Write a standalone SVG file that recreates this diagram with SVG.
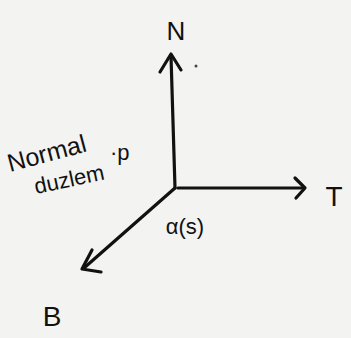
<svg xmlns="http://www.w3.org/2000/svg" width="351" height="338" viewBox="0 0 351 338">
<style>
.ax{stroke:#111;stroke-width:3.2;fill:none;stroke-linecap:round;stroke-linejoin:round}
.lb{font-family:"Liberation Sans",Arial,sans-serif;fill:#111}
</style>
<rect width="351" height="338" fill="#f3f3f1"/>
<g id="connectors">
<path class="ax" d="M175,188 L171,56"/>
<path class="ax" d="M160,72 L171,54 L181,70"/>
<path class="ax" d="M178,188 L303,188"/>
<path class="ax" d="M295,178 L305,188 L296,198"/>
<path class="ax" d="M175,188 L84,268"/>
<path class="ax" d="M92,250 L82,269 L101,272"/>
</g>
<g id="N"><text class="lb" x="176" y="40" font-size="26" text-anchor="middle">N</text></g>
<g id="T"><text class="lb" x="334" y="206" font-size="28" text-anchor="middle">T</text></g>
<g id="B"><text class="lb" x="52" y="326" font-size="28" text-anchor="middle">B</text></g>
<g id="alpha"><text class="lb" x="185" y="234" font-size="22" text-anchor="middle">α(s)</text></g>
<g id="plane">
<text class="lb" x="10" y="172" font-size="25" transform="rotate(-15 10 172)">Normal</text>
<text class="lb" x="36" y="194" font-size="22" transform="rotate(-12 36 194)">duzlem</text>
<text class="lb" x="110" y="160" font-size="22">·p</text>
</g>
<circle cx="196" cy="66" r="1.5" fill="#444"/>
</svg>
